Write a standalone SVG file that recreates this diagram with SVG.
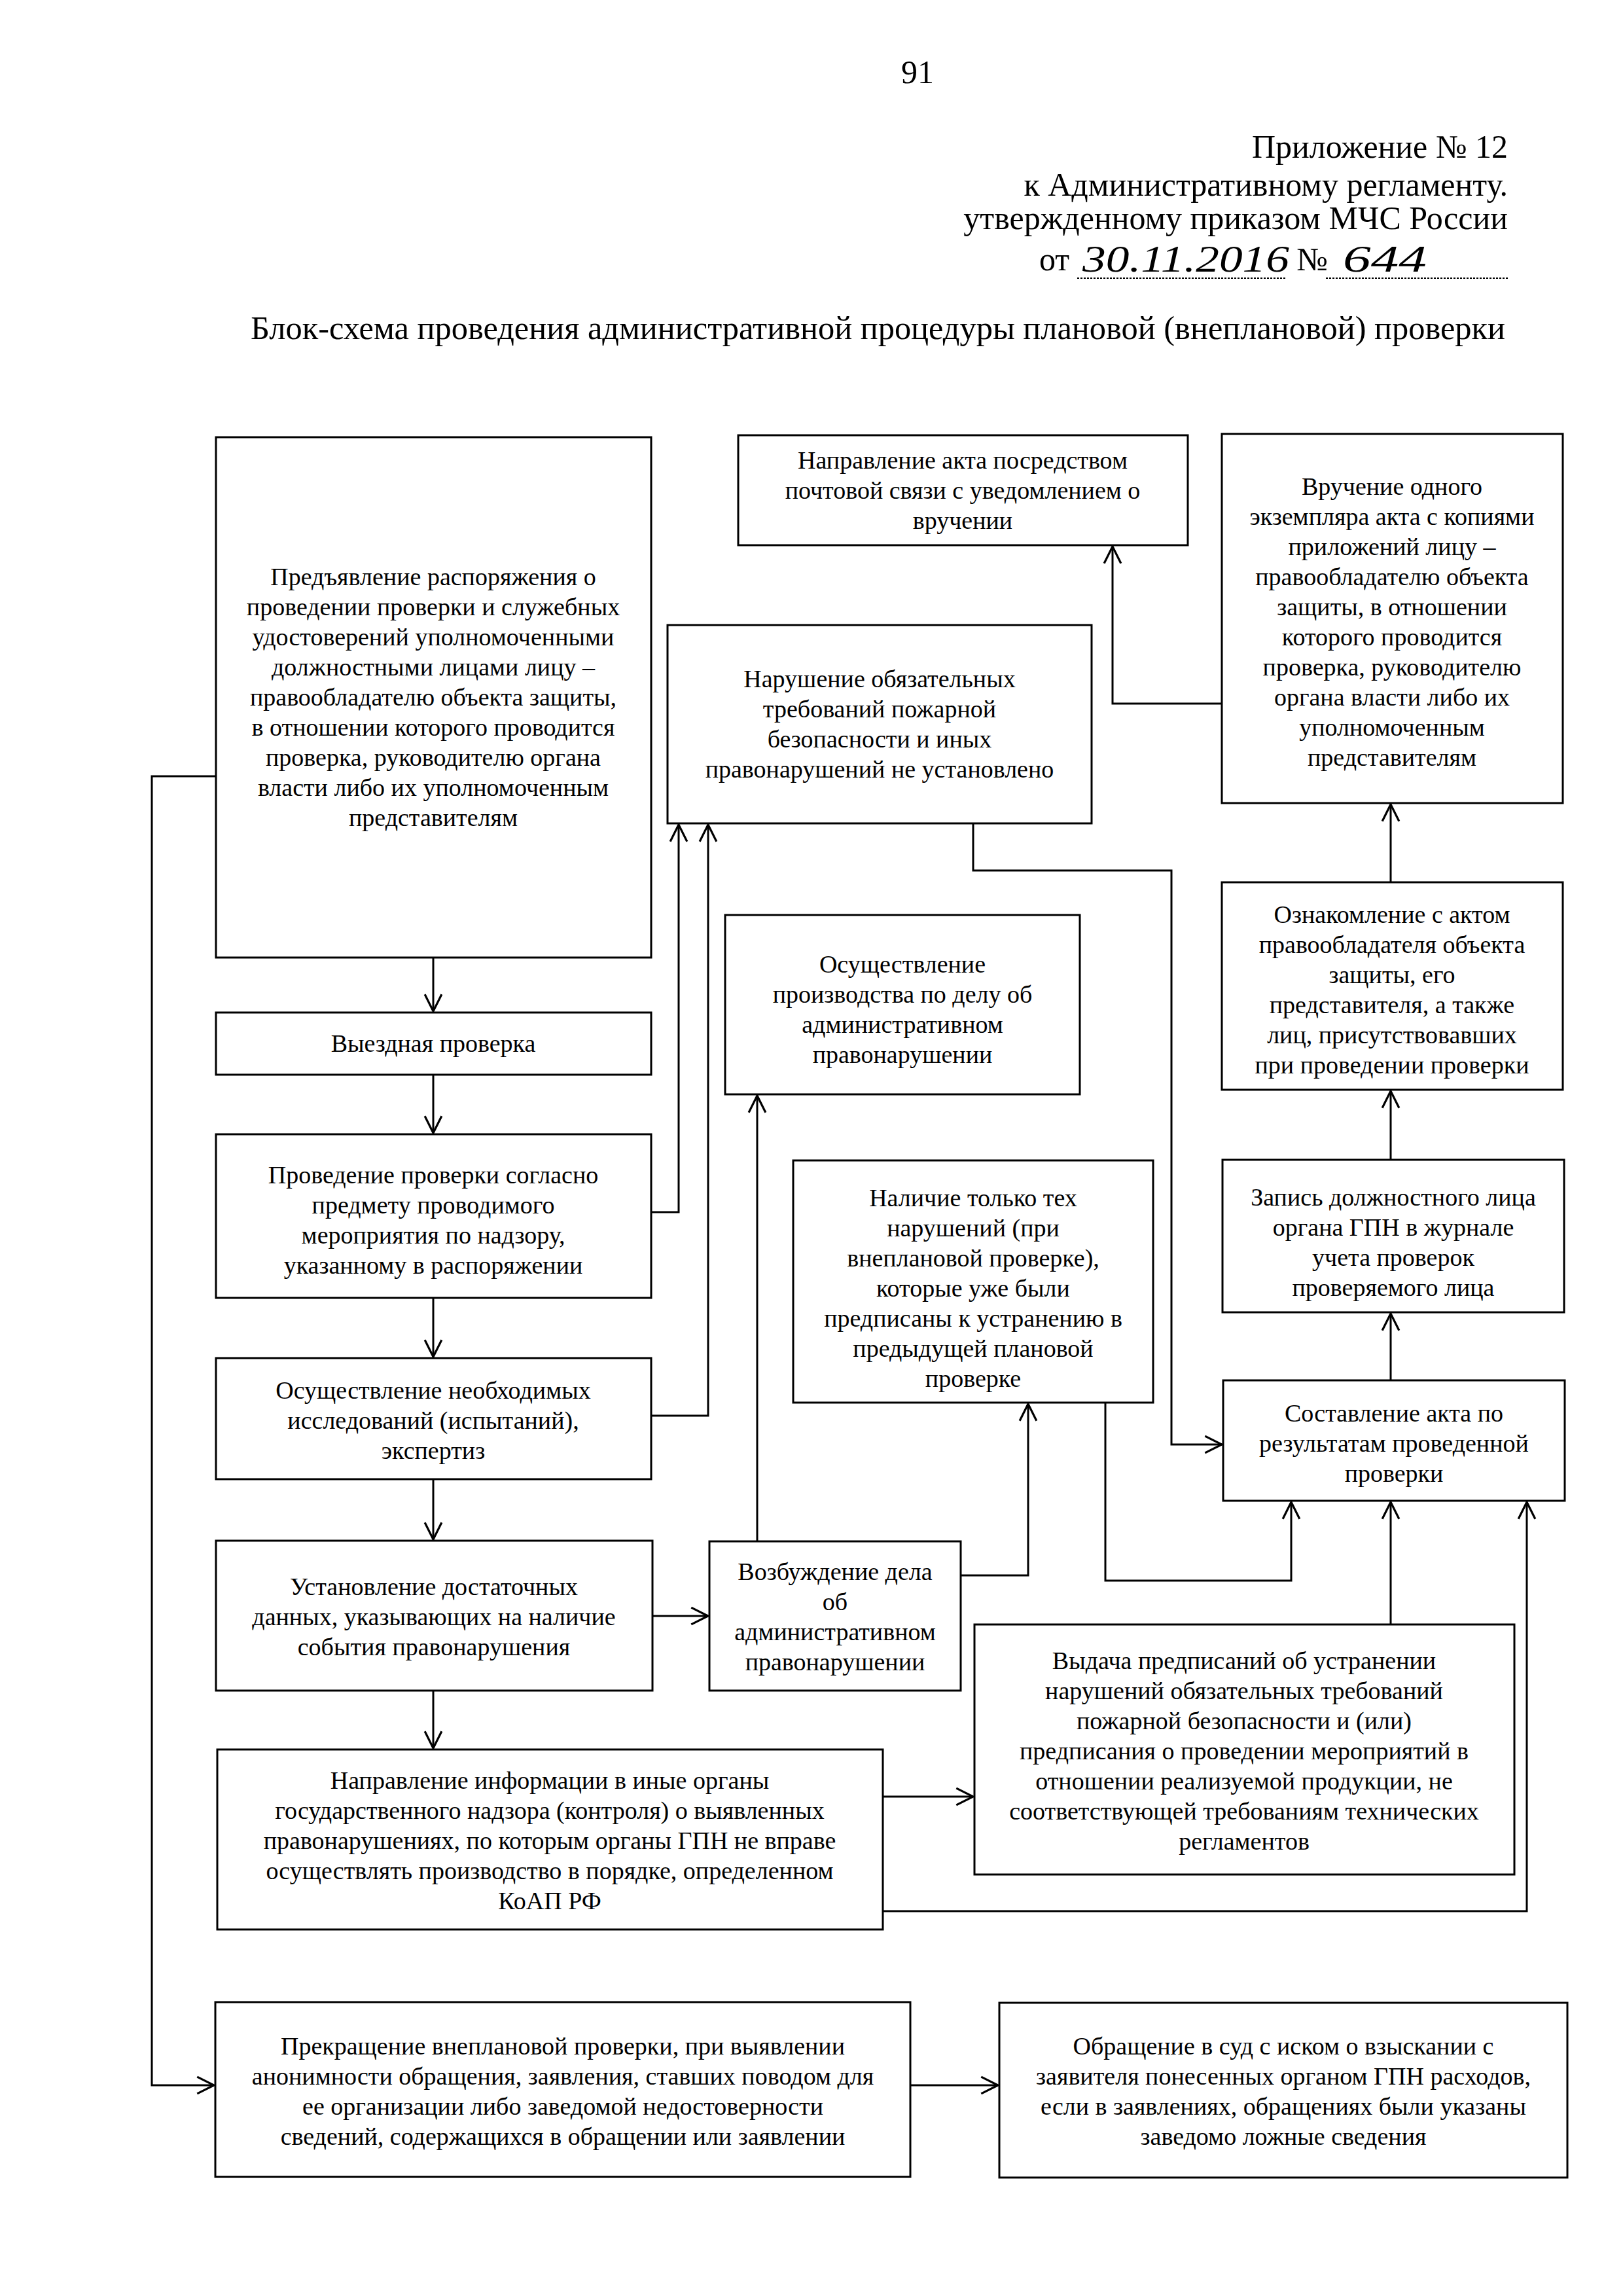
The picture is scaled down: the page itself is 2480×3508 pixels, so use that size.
<svg xmlns="http://www.w3.org/2000/svg" width="2480" height="3508" viewBox="0 0 2480 3508">
<style>
.bg{fill:#fff}
.box{fill:#fff;stroke:#000;stroke-width:3}
.t{font-family:"Liberation Serif","Times New Roman",serif;font-size:38px;text-anchor:middle;fill:#000}
.h{font-family:"Liberation Serif","Times New Roman",serif;font-size:50px;fill:#000}
.hw{font-family:"Liberation Serif","Times New Roman",serif;font-size:56px;font-style:italic;fill:#000}
.c{fill:none;stroke:#000;stroke-width:3}
.ul{stroke:#000;stroke-width:2;stroke-dasharray:3 2}
</style>
<defs>
<marker id="arr" markerUnits="userSpaceOnUse" markerWidth="30" markerHeight="30" viewBox="0 0 28 28" refX="26" refY="14" orient="auto">
<path d="M2,2 L26,14 L2,26" fill="none" stroke="#000" stroke-width="3"/>
</marker>
</defs>
<rect class="bg" x="0" y="0" width="2480" height="3508"/>
<g id="header">
<text class="h" x="1402" y="127" text-anchor="middle">91</text>
<text class="h" x="2304" y="241" text-anchor="end">Приложение № 12</text>
<text class="h" x="2304" y="299" text-anchor="end">к Административному регламенту.</text>
<text class="h" x="2304" y="350" text-anchor="end">утвержденному приказом МЧС России</text>
<text class="h" x="1588" y="413">от</text>
<text class="hw" x="1654" y="415" textLength="316" lengthAdjust="spacingAndGlyphs">30.11.2016</text>
<text class="h" x="1981" y="413">№</text>
<text class="hw" x="2052" y="415" textLength="128" lengthAdjust="spacingAndGlyphs">644</text>
<line class="ul" x1="1646" y1="425" x2="1966" y2="425"/>
<line class="ul" x1="2026" y1="425" x2="2304" y2="425"/>
<text class="h" x="383" y="518" font-size="47" textLength="1917" lengthAdjust="spacingAndGlyphs">Блок-схема проведения административной процедуры плановой (внеплановой) проверки</text>
</g>
<g id="connectors">
<path class="c" d="M662,1463 V1545" marker-end="url(#arr)"/>
<path class="c" d="M662,1642 V1731" marker-end="url(#arr)"/>
<path class="c" d="M662,1983 V2073" marker-end="url(#arr)"/>
<path class="c" d="M662,2260 V2352" marker-end="url(#arr)"/>
<path class="c" d="M662,2583 V2671" marker-end="url(#arr)"/>
<path class="c" d="M995,1852 H1037 V1260" marker-end="url(#arr)"/>
<path class="c" d="M995,2163 H1082 V1260" marker-end="url(#arr)"/>
<path class="c" d="M1487,1258 V1330 H1790 V2207 H1867" marker-end="url(#arr)"/>
<path class="c" d="M1867,1075 H1700 V835" marker-end="url(#arr)"/>
<path class="c" d="M2125,1348 V1229" marker-end="url(#arr)"/>
<path class="c" d="M2125,1772 V1667" marker-end="url(#arr)"/>
<path class="c" d="M2125,2109 V2007" marker-end="url(#arr)"/>
<path class="c" d="M1157,2355 V1674" marker-end="url(#arr)"/>
<path class="c" d="M1468,2407 H1571 V2145" marker-end="url(#arr)"/>
<path class="c" d="M1689,2143 V2415 H1973 V2295" marker-end="url(#arr)"/>
<path class="c" d="M2125,2482 V2295" marker-end="url(#arr)"/>
<path class="c" d="M1349,2920 H2333 V2295" marker-end="url(#arr)"/>
<path class="c" d="M1349,2745 H1487" marker-end="url(#arr)"/>
<path class="c" d="M997,2469 H1082" marker-end="url(#arr)"/>
<path class="c" d="M330,1186 H232 V3186 H327" marker-end="url(#arr)"/>
<path class="c" d="M1391,3186 H1525" marker-end="url(#arr)"/>
</g>
<g id="n1">
<rect class="box" x="330" y="668" width="665" height="795"/>
<text class="t"><tspan x="662" y="894">Предъявление распоряжения о</tspan><tspan x="662" y="940">проведении проверки и служебных</tspan><tspan x="662" y="986">удостоверений уполномоченными</tspan><tspan x="662" y="1032">должностными лицами лицу –</tspan><tspan x="662" y="1078">правообладателю объекта защиты,</tspan><tspan x="662" y="1124">в отношении которого проводится</tspan><tspan x="662" y="1170">проверка, руководителю органа</tspan><tspan x="662" y="1216">власти либо их уполномоченным</tspan><tspan x="662" y="1262">представителям</tspan></text>
</g>
<g id="n2">
<rect class="box" x="1128" y="665" width="687" height="168"/>
<text class="t"><tspan x="1471" y="716">Направление акта посредством</tspan><tspan x="1471" y="762">почтовой связи с уведомлением о</tspan><tspan x="1471" y="808">вручении</tspan></text>
</g>
<g id="n3">
<rect class="box" x="1867" y="663" width="521" height="564"/>
<text class="t"><tspan x="2127" y="756">Вручение одного</tspan><tspan x="2127" y="802">экземпляра акта с копиями</tspan><tspan x="2127" y="848">приложений лицу –</tspan><tspan x="2127" y="894">правообладателю объекта</tspan><tspan x="2127" y="940">защиты, в отношении</tspan><tspan x="2127" y="986">которого проводится</tspan><tspan x="2127" y="1032">проверка, руководителю</tspan><tspan x="2127" y="1078">органа власти либо их</tspan><tspan x="2127" y="1124">уполномоченным</tspan><tspan x="2127" y="1170">представителям</tspan></text>
</g>
<g id="n4">
<rect class="box" x="1020" y="955" width="648" height="303"/>
<text class="t"><tspan x="1344" y="1050">Нарушение обязательных</tspan><tspan x="1344" y="1096">требований пожарной</tspan><tspan x="1344" y="1142">безопасности и иных</tspan><tspan x="1344" y="1188">правонарушений не установлено</tspan></text>
</g>
<g id="n5">
<rect class="box" x="1108" y="1398" width="542" height="274"/>
<text class="t"><tspan x="1379" y="1486">Осуществление</tspan><tspan x="1379" y="1532">производства по делу об</tspan><tspan x="1379" y="1578">административном</tspan><tspan x="1379" y="1624">правонарушении</tspan></text>
</g>
<g id="n6">
<rect class="box" x="1867" y="1348" width="521" height="317"/>
<text class="t"><tspan x="2127" y="1410">Ознакомление с актом</tspan><tspan x="2127" y="1456">правообладателя объекта</tspan><tspan x="2127" y="1502">защиты, его</tspan><tspan x="2127" y="1548">представителя, а также</tspan><tspan x="2127" y="1594">лиц, присутствовавших</tspan><tspan x="2127" y="1640">при проведении проверки</tspan></text>
</g>
<g id="n7">
<rect class="box" x="330" y="1547" width="665" height="95"/>
<text class="t" x="662" y="1607">Выездная проверка</text>
</g>
<g id="n8">
<rect class="box" x="330" y="1733" width="665" height="250"/>
<text class="t"><tspan x="662" y="1808">Проведение проверки согласно</tspan><tspan x="662" y="1854">предмету проводимого</tspan><tspan x="662" y="1900">мероприятия по надзору,</tspan><tspan x="662" y="1946">указанному в распоряжении</tspan></text>
</g>
<g id="n9">
<rect class="box" x="1212" y="1773" width="550" height="370"/>
<text class="t"><tspan x="1487" y="1843">Наличие только тех</tspan><tspan x="1487" y="1889">нарушений (при</tspan><tspan x="1487" y="1935">внеплановой проверке),</tspan><tspan x="1487" y="1981">которые уже были</tspan><tspan x="1487" y="2027">предписаны к устранению в</tspan><tspan x="1487" y="2073">предыдущей плановой</tspan><tspan x="1487" y="2119">проверке</tspan></text>
</g>
<g id="n10">
<rect class="box" x="1868" y="1772" width="522" height="233"/>
<text class="t"><tspan x="2129" y="1842">Запись должностного лица</tspan><tspan x="2129" y="1888">органа ГПН в журнале</tspan><tspan x="2129" y="1934">учета проверок</tspan><tspan x="2129" y="1980">проверяемого лица</tspan></text>
</g>
<g id="n11">
<rect class="box" x="330" y="2075" width="665" height="185"/>
<text class="t"><tspan x="662" y="2137">Осуществление необходимых</tspan><tspan x="662" y="2183">исследований (испытаний),</tspan><tspan x="662" y="2229">экспертиз</tspan></text>
</g>
<g id="n12">
<rect class="box" x="1869" y="2109" width="522" height="184"/>
<text class="t"><tspan x="2130" y="2172">Составление акта по</tspan><tspan x="2130" y="2218">результатам проведенной</tspan><tspan x="2130" y="2264">проверки</tspan></text>
</g>
<g id="n13">
<rect class="box" x="330" y="2354" width="667" height="229"/>
<text class="t"><tspan x="663" y="2437">Установление достаточных</tspan><tspan x="663" y="2483">данных, указывающих на наличие</tspan><tspan x="663" y="2529">события правонарушения</tspan></text>
</g>
<g id="n14">
<rect class="box" x="1084" y="2355" width="384" height="228"/>
<text class="t"><tspan x="1276" y="2414">Возбуждение дела</tspan><tspan x="1276" y="2460">об</tspan><tspan x="1276" y="2506">административном</tspan><tspan x="1276" y="2552">правонарушении</tspan></text>
</g>
<g id="n15">
<rect class="box" x="1489" y="2482" width="825" height="382"/>
<text class="t"><tspan x="1901" y="2550">Выдача предписаний об устранении</tspan><tspan x="1901" y="2596">нарушений обязательных требований</tspan><tspan x="1901" y="2642">пожарной безопасности и (или)</tspan><tspan x="1901" y="2688">предписания о проведении мероприятий в</tspan><tspan x="1901" y="2734">отношении реализуемой продукции, не</tspan><tspan x="1901" y="2780">соответствующей требованиям технических</tspan><tspan x="1901" y="2826">регламентов</tspan></text>
</g>
<g id="n16">
<rect class="box" x="332" y="2673" width="1017" height="275"/>
<text class="t"><tspan x="840" y="2733">Направление информации в иные органы</tspan><tspan x="840" y="2779">государственного надзора (контроля) о выявленных</tspan><tspan x="840" y="2825">правонарушениях, по которым органы ГПН не вправе</tspan><tspan x="840" y="2871">осуществлять производство в порядке, определенном</tspan><tspan x="840" y="2917">КоАП РФ</tspan></text>
</g>
<g id="n17">
<rect class="box" x="329" y="3059" width="1062" height="267"/>
<text class="t"><tspan x="860" y="3139">Прекращение внеплановой проверки, при выявлении</tspan><tspan x="860" y="3185">анонимности обращения, заявления, ставших поводом для</tspan><tspan x="860" y="3231">ее организации либо заведомой недостоверности</tspan><tspan x="860" y="3277">сведений, содержащихся в обращении или заявлении</tspan></text>
</g>
<g id="n18">
<rect class="box" x="1527" y="3060" width="868" height="267"/>
<text class="t"><tspan x="1961" y="3139">Обращение в суд с иском о взыскании с</tspan><tspan x="1961" y="3185">заявителя понесенных органом ГПН расходов,</tspan><tspan x="1961" y="3231">если в заявлениях, обращениях были указаны</tspan><tspan x="1961" y="3277">заведомо ложные сведения</tspan></text>
</g>
</svg>
